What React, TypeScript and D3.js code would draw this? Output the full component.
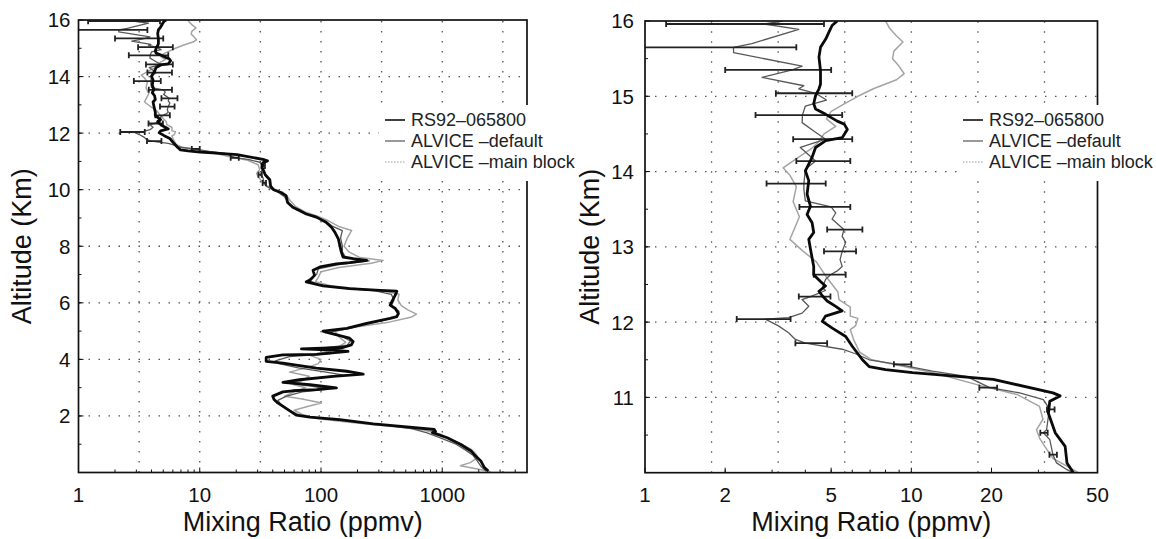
import React from 'react';
import * as d3 from 'd3';

// [altitude km, mixing ratio ppmv]
const rs92: [number, number][] = [
  [0.05, 2400], [0.08, 2360], [0.18, 2220], [0.41, 2080], [0.64, 1830], [0.76, 1730], [1.0, 1410],
  [1.23, 1100], [1.41, 830], [1.45, 880], [1.52, 860], [1.61, 510], [1.72, 270], [1.87, 143],
  [1.96, 81], [2.03, 62.5], [2.23, 53], [2.46, 44], [2.58, 41], [2.7, 40], [2.85, 48.5], [2.89, 58.5],
  [2.93, 91.7], [2.99, 134], [3.11, 81], [3.19, 48.5], [3.28, 66.5], [3.4, 126], [3.48, 223],
  [3.58, 163], [3.69, 91.7], [3.87, 48.5], [3.93, 35.3], [4.07, 35.3], [4.16, 48.5], [4.18, 91.7],
  [4.28, 167], [4.34, 110], [4.37, 69], [4.42, 152], [4.51, 178], [4.63, 184], [4.75, 172],
  [4.96, 110], [5.0, 104], [5.1, 163], [5.27, 238], [5.45, 372], [5.51, 422], [5.62, 435],
  [5.8, 410], [5.92, 372], [6.04, 384], [6.27, 410], [6.41, 422], [6.44, 308], [6.5, 172],
  [6.6, 104], [6.74, 75.5], [6.8, 81], [6.97, 88.5], [7.15, 86], [7.27, 98], [7.38, 134],
  [7.42, 172], [7.5, 238], [7.56, 184], [7.62, 152], [7.8, 147], [8.03, 143], [8.26, 139],
  [8.5, 130], [8.67, 122], [8.85, 110], [9.03, 91.7], [9.14, 75.5], [9.26, 66.5], [9.38, 58.5],
  [9.55, 53], [9.79, 51.5], [9.9, 46.9], [10.0, 40.6], [10.13, 38.4], [10.35, 37.8], [10.53, 34.7],
  [10.79, 32.7], [10.95, 33.1], [11.02, 36.2], [11.06, 34], [11.24, 20.3], [11.3, 12.8],
  [11.33, 10.1], [11.37, 8.0], [11.41, 6.94], [11.5, 6.55], [11.68, 6.0], [11.81, 5.67],
  [11.92, 5.05], [12.01, 4.63], [12.08, 4.76], [12.15, 5.5], [12.21, 5.2], [12.28, 4.83],
  [12.35, 4.63], [12.41, 4.5], [12.48, 4.76], [12.54, 4.56], [12.63, 4.3], [12.74, 4.3],
  [12.97, 4.18], [13.1, 4.12], [13.19, 4.3], [13.32, 4.24], [13.43, 4.06], [13.54, 4.18],
  [13.7, 4.06], [13.88, 4.12], [14.01, 4.0], [14.19, 4.24], [14.32, 4.37], [14.41, 4.77],
  [14.45, 5.5], [14.56, 5.75], [14.63, 5.6], [14.67, 5.27], [14.76, 4.77], [14.83, 4.37],
  [14.9, 4.3], [15.01, 4.37], [15.1, 4.5], [15.16, 4.56], [15.34, 4.56], [15.52, 4.5],
  [15.65, 4.56], [15.76, 4.77], [15.85, 4.9], [15.94, 5.04], [16.0, 5.27],
];

const alviceDefault: [number, number][] = [
  [0.05, 2300], [0.2, 2100], [0.4, 1950], [0.6, 1800], [0.8, 1550], [1.0, 1300], [1.2, 1000],
  [1.4, 750], [1.55, 560], [1.7, 300], [1.82, 170], [1.92, 95], [2.0, 68], [2.2, 55], [2.4, 47],
  [2.55, 44], [2.7, 52], [2.85, 70], [2.95, 115], [3.05, 85], [3.15, 55], [3.3, 75], [3.45, 150],
  [3.55, 110], [3.7, 65], [3.85, 45], [3.95, 42], [4.1, 55], [4.2, 120], [4.3, 145], [4.4, 100],
  [4.5, 165], [4.65, 175], [4.8, 150], [4.95, 115], [5.1, 170], [5.3, 270], [5.5, 420], [5.7, 440],
  [5.9, 380], [6.1, 400], [6.3, 380], [6.42, 280], [6.52, 150], [6.65, 95], [6.8, 78], [7.0, 92],
  [7.2, 95], [7.35, 140], [7.48, 250], [7.6, 160], [7.8, 150], [8.0, 150], [8.3, 145], [8.55, 150],
  [8.7, 125], [8.9, 108], [9.1, 80], [9.3, 62], [9.5, 55], [9.75, 50], [9.95, 43],
  [10.04, 38.4], [10.13, 35.1], [10.24, 34], [10.44, 33.1], [10.53, 31.3], [10.57, 32.2],
  [10.75, 32.7], [10.84, 33.1], [10.97, 31.3], [11.06, 25.5], [11.13, 19.7], [11.28, 16.1],
  [11.35, 12.0], [11.44, 8.9], [11.5, 6.94], [11.58, 6.17], [11.64, 5.5], [11.72, 4.0],
  [11.77, 3.67], [11.86, 3.46], [11.95, 3.17], [12.04, 2.83], [12.06, 3.46], [12.12, 3.89],
  [12.21, 4.12], [12.3, 3.89], [12.34, 4.18], [12.42, 4.76], [12.46, 4.63], [12.57, 4.77],
  [12.63, 4.97], [12.68, 5.27], [12.74, 5.5], [12.83, 5.4], [12.94, 5.5], [13.06, 5.67],
  [13.14, 5.5], [13.23, 5.58], [13.37, 5.04], [13.45, 5.2], [13.53, 5.0], [13.61, 4.0],
  [13.76, 3.95], [13.84, 3.95], [14.03, 4.0], [14.14, 4.37], [14.32, 3.83], [14.43, 4.77],
  [14.54, 4.3], [14.65, 3.89], [14.75, 3.9], [14.87, 4.0], [14.95, 4.8], [15.04, 4.37],
  [15.1, 3.78], [15.14, 3.95], [15.25, 2.75], [15.35, 3.57], [15.4, 3.89], [15.58, 2.15],
  [15.65, 2.15], [15.7, 2.52], [15.89, 3.78], [15.96, 2.8], [16.0, 3.3],
];

const alviceMain: [number, number][] = [
  [0.03, 2500], [0.1, 2100], [0.24, 1410], [0.35, 1700], [0.53, 1960], [0.65, 1900], [0.82, 1730],
  [1.0, 1450], [1.15, 1200], [1.35, 970], [1.5, 700], [1.6, 450], [1.7, 260], [1.8, 150],
  [1.9, 95], [2.05, 70], [2.2, 60], [2.35, 80], [2.46, 101], [2.6, 70], [2.7, 50], [2.85, 60],
  [3.0, 75], [3.1, 60], [3.25, 70], [3.4, 80], [3.55, 55], [3.7, 75], [3.85, 95], [4.0, 100],
  [4.15, 80], [4.3, 120], [4.45, 140], [4.6, 160], [4.8, 140], [5.0, 130], [5.15, 200],
  [5.3, 350], [5.5, 560], [5.6, 612], [5.75, 520], [5.9, 460], [6.1, 430], [6.3, 440],
  [6.42, 330], [6.5, 200], [6.6, 120], [6.75, 90], [6.9, 95], [7.1, 100], [7.25, 140],
  [7.4, 260], [7.5, 326], [7.6, 210], [7.8, 170], [8.0, 155], [8.3, 165], [8.56, 179],
  [8.7, 140], [8.9, 115], [9.05, 95], [9.2, 75], [9.4, 62], [9.6, 56], [9.8, 52], [9.95, 45],
  [10.03, 41], [10.19, 34], [10.35, 31.7], [10.46, 30.3], [10.57, 29.5], [10.71, 31.2],
  [10.88, 30.3], [11.04, 24.9], [11.15, 18.5], [11.33, 12.0], [11.5, 7.1], [11.6, 6.4],
  [11.75, 6.1], [11.9, 5.9], [11.95, 6.17], [12.05, 6.3], [12.08, 5.9], [12.2, 5.9],
  [12.3, 5.35], [12.4, 5.3], [12.6, 4.8], [12.8, 4.4], [12.95, 3.9], [13.1, 3.5], [13.2, 3.6],
  [13.4, 3.8], [13.6, 3.6], [13.8, 3.7], [13.95, 3.5], [14.05, 3.3], [14.2, 3.8], [14.3, 4.2],
  [14.4, 4.5], [14.5, 4.7], [14.6, 5.2], [14.7, 4.8], [14.8, 5.0], [14.9, 5.6], [15.0, 6.3],
  [15.1, 7.2], [15.22, 8.8], [15.3, 9.4], [15.42, 8.9], [15.5, 8.5], [15.6, 8.6], [15.72, 9.3],
  [15.8, 8.8], [15.9, 8.3], [16.0, 8.0],
];

// [altitude, centre, low, high] for ALVICE default
const errorBars: [number, number, number, number][] = [
  [15.96, 2.8, 1.2, 4.7], [15.65, 2.15, 0.6, 3.7], [15.35, 3.57, 2.0, 5.0], [15.04, 4.37, 3.1, 6.0],
  [14.75, 3.9, 2.6, 5.5], [14.43, 4.77, 3.6, 6.0], [14.14, 4.37, 3.7, 5.9], [13.84, 3.95, 2.86, 4.77],
  [13.53, 5.0, 3.8, 5.9], [13.23, 5.58, 4.83, 6.55], [12.94, 5.5, 4.7, 6.2], [12.63, 4.97, 4.3, 5.67],
  [12.34, 4.18, 3.78, 4.97], [12.04, 2.83, 2.21, 3.52], [11.72, 4.0, 3.67, 4.83],
  [11.44, 8.9, 8.6, 10.0], [11.13, 19.7, 18.0, 21.0], [10.84, 33.1, 32.3, 34.5],
  [10.53, 31.3, 30.5, 32.5], [10.24, 34, 33, 35.2],
];

const seriesNames = ['RS92\u2013065800', 'ALVICE \u2013default', 'ALVICE \u2013main block'];

const leftXTicks = [1, 10, 100, 1000];
const leftYTicks = [2, 4, 6, 8, 10, 12, 14, 16];
const leftGridX = [3.162, 10, 31.62, 100, 316.2, 1000, 3162];
const leftGridY = [2, 4, 6, 8, 10, 12, 14];

const rightXTicks = [1, 2, 5, 10, 20, 50];
const rightYTicks = [11, 12, 13, 14, 15, 16];
const rightGridX = [1.778, 3.162, 5.623, 10, 17.78, 31.62];
const rightGridY = [11, 12, 13, 14, 15];

const FONT = '"Liberation Sans", Arial, Helvetica, sans-serif';

type PanelProps = {
  id: string;
  x0: number; x1: number; y0: number; y1: number;
  xDomain: [number, number]; yDomain: [number, number];
  xTicks: number[]; yTicks: number[]; gridX: number[]; gridY: number[];
  yMinorStep: number; yLabelGap: number;
  legendX: number; yTitleX: number;
};

function minorLogTicks(lo: number, hi: number): number[] {
  const out: number[] = [];
  for (let e = Math.floor(Math.log10(lo)); e <= Math.ceil(Math.log10(hi)); e++) {
    for (let m = 2; m <= 9; m++) {
      const v = m * Math.pow(10, e);
      if (v > lo && v < hi) out.push(v);
    }
  }
  return out;
}

function Panel(p: PanelProps) {
  const x = d3.scaleLog().domain(p.xDomain).range([p.x0, p.x1]);
  const y = d3.scaleLinear().domain(p.yDomain).range([p.y1, p.y0]);
  const line = d3.line<[number, number]>().x(d => x(d[1])).y(d => y(d[0]));
  const clip = `clip-${p.id}`;
  const minors = minorLogTicks(p.xDomain[0], p.xDomain[1]);
  const yMinors: number[] = [];
  for (let v = p.yDomain[0] + p.yMinorStep; v < p.yDomain[1]; v += p.yMinorStep) yMinors.push(v);
  const cy = (p.y0 + p.y1) / 2;
  const cx = (p.x0 + p.x1) / 2;
  const legRows = [120, 141, 162];
  return (
    <g>
      <defs>
        <clipPath id={clip}>
          <rect x={p.x0} y={p.y0} width={p.x1 - p.x0} height={p.y1 - p.y0} />
        </clipPath>
      </defs>
      {/* grid */}
      <g stroke="#555" strokeWidth={1.3} strokeDasharray="1.5 8.5">
        {p.gridX.map(v => (
          <line key={'gx' + v} x1={x(v)} x2={x(v)} y1={p.y1} y2={p.y0} />
        ))}
        {p.gridY.map(v => (
          <line key={'gy' + v} x1={p.x0} x2={p.x1} y1={y(v)} y2={y(v)} />
        ))}
      </g>
      {/* series */}
      <g clipPath={`url(#${clip})`} fill="none" strokeLinejoin="round">
        <path d={line(alviceMain) || ''} stroke="#a4a4a4" strokeWidth={1.5} />
        <path d={line(alviceDefault) || ''} stroke="#585858" strokeWidth={1.3} />
        <g stroke="#222" strokeWidth={1.8}>
          {errorBars.map((e, i) => {
            const yy = y(e[0]);
            return (
              <g key={'eb' + i}>
                <line x1={x(e[2])} x2={x(e[3])} y1={yy} y2={yy} />
                <line x1={x(e[2])} x2={x(e[2])} y1={yy - 3} y2={yy + 3} />
                <line x1={x(e[3])} x2={x(e[3])} y1={yy - 3} y2={yy + 3} />
              </g>
            );
          })}
        </g>
        <path d={line(rs92) || ''} stroke="#0a0a0a" strokeWidth={2.8} />
      </g>
      {/* ticks */}
      <g stroke="#111" strokeWidth={1}>
        {minors.map(v => (
          <line key={'mx' + v} x1={x(v)} x2={x(v)} y1={p.y1} y2={p.y1 - 3} />
        ))}
        {p.xTicks.map(v => (
          <line key={'tx' + v} x1={x(v)} x2={x(v)} y1={p.y1} y2={p.y1 - 5} />
        ))}
        {yMinors.map(v => (
          <line key={'my' + v} x1={p.x0} x2={p.x0 + 3} y1={y(v)} y2={y(v)} />
        ))}
        {p.yTicks.map(v => (
          <line key={'ty' + v} x1={p.x0} x2={p.x0 + 5} y1={y(v)} y2={y(v)} />
        ))}
      </g>
      {/* frame */}
      <rect x={p.x0} y={p.y0} width={p.x1 - p.x0} height={p.y1 - p.y0} fill="none" stroke="#111" strokeWidth={1.7} />
      {/* legend */}
      <rect x={p.legendX - 6} y={105} width={200} height={76} fill="#fff" />
      <g fontFamily={FONT} fontSize={18} fill="#222">
        {seriesNames.map((n, i) => (
          <g key={n}>
            <line
              x1={p.legendX} x2={p.legendX + 20} y1={legRows[i]} y2={legRows[i]}
              stroke={i === 0 ? '#111' : i === 1 ? '#555' : '#999'}
              strokeWidth={i === 0 ? 1.6 : 1.2}
              strokeDasharray={i === 2 ? '1.5 1.5' : undefined}
            />
            <text x={p.legendX + 26} y={legRows[i]} dy="0.35em">{n}</text>
          </g>
        ))}
      </g>
      {/* tick labels */}
      <g fontFamily={FONT} fontSize={20.5} fill="#111">
        {p.xTicks.map(v => (
          <text key={'lx' + v} x={x(v)} y={502} textAnchor="middle">{String(v)}</text>
        ))}
        {p.yTicks.map(v => (
          <text key={'ly' + v} x={p.x0 - p.yLabelGap} y={y(v)} dy="0.36em" textAnchor="end">{String(v)}</text>
        ))}
      </g>
      <text x={cx} y={531} textAnchor="middle" fontFamily={FONT} fontSize={27} fill="#111">Mixing Ratio (ppmv)</text>
      <text transform={`translate(${p.yTitleX},${cy}) rotate(-90)`} textAnchor="middle" fontFamily={FONT} fontSize={27} fill="#111">Altitude (Km)</text>
    </g>
  );
}

export default function App() {
  return (
    <svg width={1156} height={539} style={{ position: 'absolute', left: 0, top: 0, background: '#fff' }}>
      <rect x={0} y={0} width={1156} height={539} fill="#fff" />
      <Panel
        id="l" x0={78.5} x1={527} y0={20} y1={472.5}
        xDomain={[1, 5000]} yDomain={[0, 16]}
        xTicks={leftXTicks} yTicks={leftYTicks} gridX={leftGridX} gridY={leftGridY}
        yMinorStep={1} yLabelGap={8}
        legendX={385} yTitleX={31}
      />
      <Panel
        id="r" x0={645} x1={1097.5} y0={21} y1={472.7}
        xDomain={[1, 50]} yDomain={[10, 16]}
        xTicks={rightXTicks} yTicks={rightYTicks} gridX={rightGridX} gridY={rightGridY}
        yMinorStep={0.5} yLabelGap={11}
        legendX={963} yTitleX={599}
      />
    </svg>
  );
}
